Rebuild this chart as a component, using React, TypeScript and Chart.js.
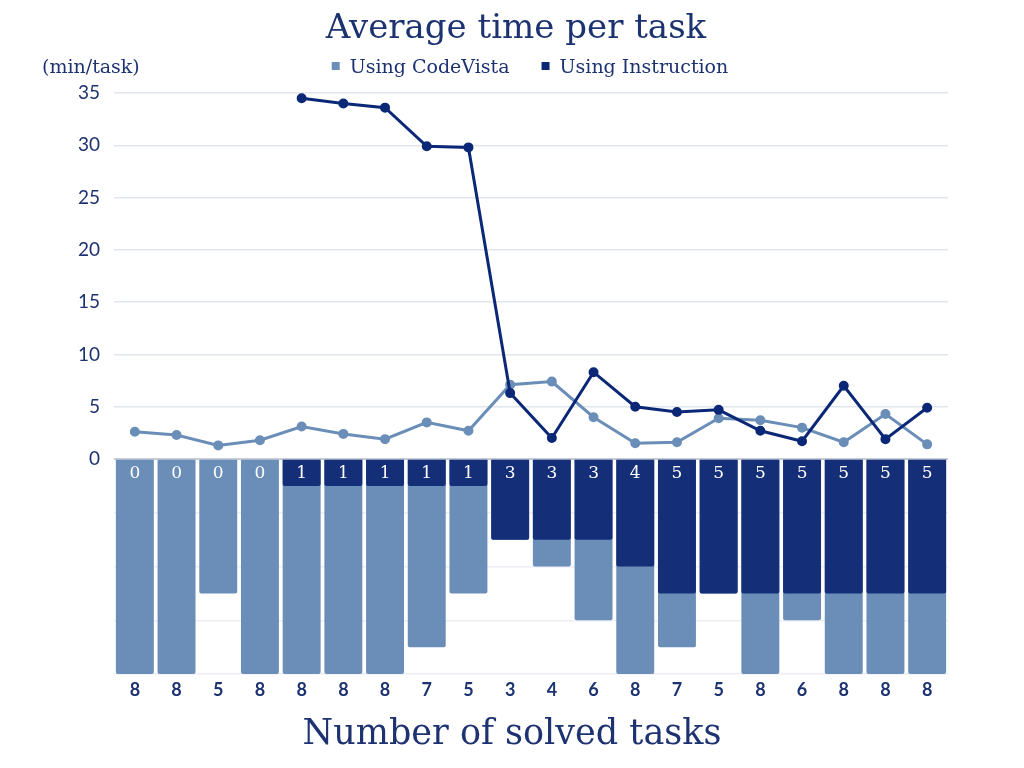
import React, { useEffect, useRef } from "react";
import { Chart, registerables } from "chart.js";

Chart.register(...registerables);

// ---- data ----
const xLabels = ["8", "8", "5", "8", "8", "8", "8", "7", "5", "3", "4", "6", "8", "7", "5", "8", "6", "8", "8", "8"];
const codeVistaSolved = [8, 8, 5, 8, 8, 8, 8, 7, 5, 3, 4, 6, 8, 7, 5, 8, 6, 8, 8, 8];
const instructionSolved = [0, 0, 0, 0, 1, 1, 1, 1, 1, 3, 3, 3, 4, 5, 5, 5, 5, 5, 5, 5];
const codeVistaTime = [2.6, 2.3, 1.3, 1.8, 3.1, 2.4, 1.9, 3.5, 2.7, 7.1, 7.4, 4.0, 1.5, 1.6, 3.9, 3.7, 3.0, 1.6, 4.3, 1.4];
const instructionTime: (number | null)[] = [null, null, null, null, 34.5, 34.0, 33.6, 29.9, 29.8, 6.3, 2.0, 8.3, 5.0, 4.5, 4.7, 2.7, 1.7, 7.0, 1.9, 4.9];
const seriesNames = ["Using CodeVista", "Using Instruction"];
const titleText = "Average time per task";
const xTitleText = "Number of solved tasks";
const unitText = "(min/task)";

// ---- style ----
const TEXT = "#1c3271";
const LIGHT = "#6a8eb8";
const DARK_BAR = "#142e77";
const DARK_LINE = "#0b2877";
const SERIF = "'DejaVu Serif', serif";
const SANS = "Lato, 'Noto Sans', sans-serif";

const overlay = {
  id: "overlay",
  afterDatasetsDraw(chart: any) {
    const ctx = chart.ctx;
    const y2 = chart.scales.y2;
    const meta = chart.getDatasetMeta(2);
    const top = y2.getPixelForValue(0);
    ctx.save();
    ctx.fillStyle = "#ffffff";
    ctx.font = `17px ${SERIF}`;
    ctx.textAlign = "center";
    ctx.textBaseline = "middle";
    meta.data.forEach((bar: any, i: number) => {
      ctx.fillText(String(instructionSolved[i]), bar.x, top + 15);
    });
    ctx.restore();
  },
  afterDraw(chart: any) {
    const ctx = chart.ctx;
    ctx.save();
    ctx.fillStyle = TEXT;
    ctx.textBaseline = "alphabetic";
    ctx.textAlign = "center";
    ctx.font = `34px ${SERIF}`;
    ctx.fillText(titleText, 516, 38);
    ctx.font = `35px ${SERIF}`;
    ctx.fillText(xTitleText, 512, 744);
    ctx.textAlign = "left";
    ctx.font = `19px ${SERIF}`;
    ctx.fillText(unitText, 42, 73);
    const colors = [chart.data.datasets[0].borderColor, chart.data.datasets[1].borderColor];
    const widths = seriesNames.map((s) => ctx.measureText(s).width);
    const total = 18 * 2 + widths[0] + widths[1] + 32;
    let x = 530 - total / 2;
    seriesNames.forEach((s, k) => {
      ctx.fillStyle = colors[k];
      ctx.fillRect(x, 62, 8, 8);
      ctx.fillStyle = TEXT;
      ctx.fillText(s, x + 18, 73);
      x += 18 + widths[k] + 32;
    });
    ctx.restore();
  },
};

export default function App() {
  const ref = useRef<HTMLCanvasElement | null>(null);
  useEffect(() => {
    if (!ref.current) return;
    const chart = new Chart(ref.current, {
      type: "bar",
      data: {
        labels: xLabels,
        datasets: [
          {
            type: "line",
            label: seriesNames[0],
            data: codeVistaTime,
            yAxisID: "y",
            borderColor: LIGHT,
            backgroundColor: LIGHT,
            pointBackgroundColor: LIGHT,
            pointBorderColor: LIGHT,
            borderWidth: 3,
            pointRadius: 3.5,
            tension: 0,
            order: 1,
          } as any,
          {
            type: "line",
            label: seriesNames[1],
            data: instructionTime,
            yAxisID: "y",
            borderColor: DARK_LINE,
            backgroundColor: DARK_LINE,
            pointBackgroundColor: DARK_LINE,
            pointBorderColor: DARK_LINE,
            borderWidth: 3,
            pointRadius: 3.5,
            tension: 0,
            order: 0,
          } as any,
          {
            type: "bar",
            label: "Instruction solved",
            data: instructionSolved,
            yAxisID: "y2",
            backgroundColor: DARK_BAR,
            grouped: false,
            barPercentage: 0.91,
            categoryPercentage: 1,
            borderRadius: 2,
            order: 2,
          } as any,
          {
            type: "bar",
            label: "CodeVista solved",
            data: codeVistaSolved,
            yAxisID: "y2",
            backgroundColor: LIGHT,
            grouped: false,
            barPercentage: 0.91,
            categoryPercentage: 1,
            borderRadius: 2,
            order: 3,
          } as any,
        ],
      },
      options: {
        animation: false,
        responsive: true,
        maintainAspectRatio: false,
        layout: { padding: { top: 93, left: 0, right: 76, bottom: 0 } },
        plugins: {
          legend: { display: false },
          title: { display: false },
          tooltip: { enabled: false },
        },
        scales: {
          x: {
            type: "category",
            grid: { display: false, drawTicks: false },
            border: { display: false },
            ticks: {
              color: TEXT,
              font: { family: SANS, size: 18, weight: "bold" },
              padding: 5,
              maxRotation: 0,
              autoSkip: false,
            },
            afterFit: (s: any) => {
              s.height = 94;
            },
          },
          y2: {
            stack: "v",
            stackWeight: 215,
            position: "left",
            min: 0,
            max: 8,
            reverse: true,
            ticks: { display: false, stepSize: 2 },
            grid: {
              color: (c: any) => (c.tick && c.tick.value === 0 ? "rgba(0,0,0,0)" : "#eceef4"),
              lineWidth: 1.5,
              drawTicks: false,
            },
            border: { display: false },
            afterFit: (s: any) => {
              s.width = 114;
            },
          },
          y: {
            stack: "v",
            stackWeight: 366,
            position: "left",
            min: 0,
            max: 35,
            ticks: {
              stepSize: 5,
              color: TEXT,
              font: { family: SANS, size: 19 },
              padding: 14,
            },
            grid: {
              color: (c: any) => (c.tick && c.tick.value === 0 ? "#c6cbd7" : "#e1e5ee"),
              lineWidth: (c: any) => (c.tick && c.tick.value === 0 ? 2 : 1.5),
              drawTicks: false,
            },
            border: { display: false },
            afterFit: (s: any) => {
              s.width = 114;
            },
          },
        } as any,
      },
      plugins: [overlay],
    });
    return () => chart.destroy();
  }, []);

  return (
    <div style={{ position: "fixed", left: 0, top: 0, width: 1024, height: 768, background: "#ffffff" }}>
      <canvas ref={ref} />
    </div>
  );
}
